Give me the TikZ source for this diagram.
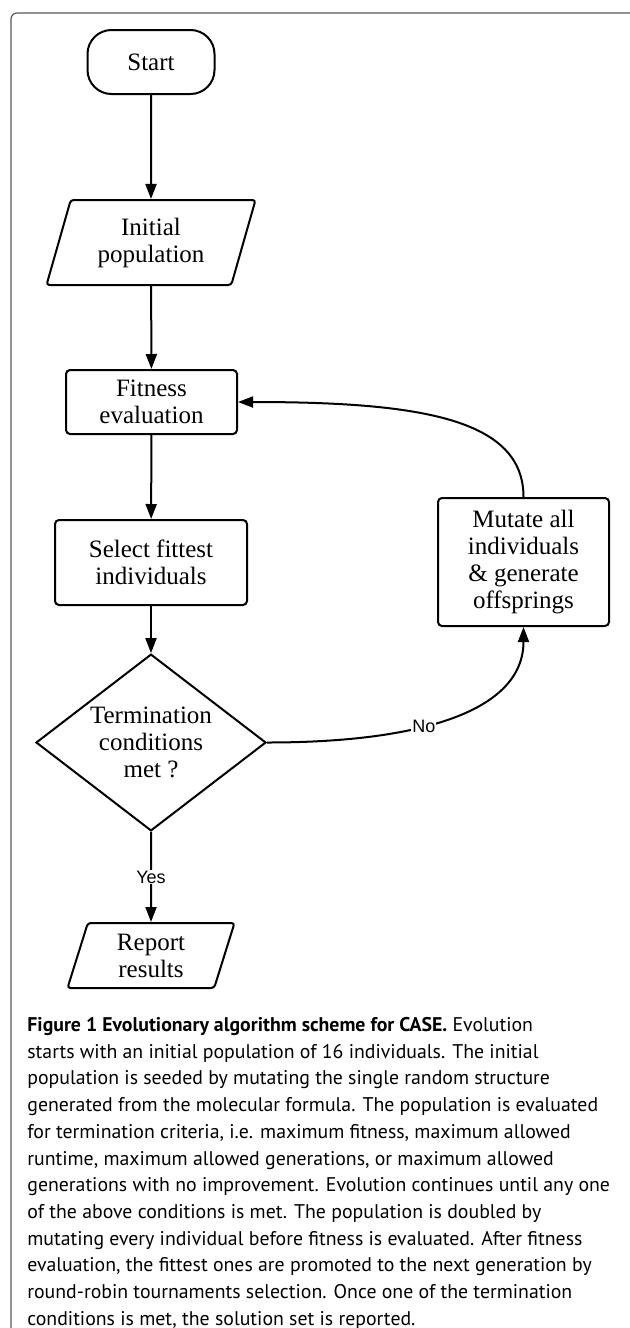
\documentclass[tikz,border=0pt]{standalone}
\usepackage{fontspec}
\setmainfont{Liberation Serif}
\newfontfamily\captionfont{PT Sans}
\newfontfamily\labelfont{Liberation Sans}
\usetikzlibrary{shapes.geometric,arrows.meta}

\begin{document}
\begin{tikzpicture}[x=0.5pt,y=-0.5pt]
		\tikzstyle{every node}=[font=\fontsize{12.5}{13.5}\selectfont]
		\tikzstyle{terminal} = [draw, rectangle, rounded corners=12pt, align=center, line width=1pt, minimum width=63.5pt, minimum height=32pt]
		\tikzstyle{proceso} = [draw, rectangle, rounded corners=2pt, align=center, line width=1pt, inner sep=0pt]
		\tikzstyle{datos} = [draw, trapezium, trapezium stretches body, rounded corners=1.5pt, align=center, line width=1pt, inner sep=0pt]
		\tikzstyle{decision} = [draw, diamond, align=center, line width=1pt, inner sep=-2pt, minimum width=115pt, minimum height=72.5pt]
		\tikzstyle{flecha} = [-{Triangle[length=7.5pt,width=5.5pt]}, line width=1pt]
		\tikzstyle{etiqueta} = [font=\labelfont\fontsize{9}{10}\selectfont, fill=white, inner sep=0.5pt]
		\tikzstyle{marco} = [draw=black!65, line width=0.6pt, rounded corners=3pt]

		\useasboundingbox (0,0) rectangle (629,1328);
		\draw[marco] (11,1345) -- (11,13) -- (645,13);

		\draw (151,62) node[terminal](start){Start};
		\draw (151,242.5) node[datos, trapezium left angle=64, trapezium right angle=116, minimum width=104.5pt, minimum height=42.5pt](init){Initial\\population};
		\draw (151.5,402) node[proceso, minimum width=85.5pt, minimum height=32pt](fit){Fitness\\evaluation};
		\draw (151,562.5) node[proceso, minimum width=96pt, minimum height=42.5pt](sel){Select fittest\\individuals};
		\draw (151,742.5) node[decision](term){Termination\\conditions\\met ?};
		\draw (151,955.5) node[datos, trapezium left angle=65, trapezium right angle=115, minimum width=83.5pt, minimum height=32.5pt](report){Report\\results};
		\draw (523.5,562) node[proceso, minimum width=85.5pt, minimum height=64pt](mut){Mutate all\\individuals\\\& generate\\offsprings};

		\draw [flecha] (start) -- (init);
		\draw [flecha] (init) -- (fit);
		\draw [flecha] (fit) -- (sel);
		\draw [flecha] (sel) -- (term);
		\draw [flecha] (term.south) -- (report.north) node[midway, etiqueta]{Yes};
		\draw [flecha] (term.east) .. controls +(154,0) and +(0,84) .. (mut.south) node[pos=0.4, etiqueta]{No};
		\draw [flecha] (mut.north) .. controls +(0,-78) and +(183,0) .. (fit.east);

		\draw (27,1017) node[anchor=north west, align=left, inner sep=0pt, font=\captionfont\fontsize{9.9}{13.35}\selectfont](caption){%
			\textbf{Figure 1 Evolutionary algorithm scheme for CASE.} Evolution\\
			starts with an initial population of 16 individuals. The initial\\
			population is seeded by mutating the single random structure\\
			generated from the molecular formula. The population is evaluated\\
			for termination criteria, i.e. maximum fitness, maximum allowed\\
			runtime, maximum allowed generations, or maximum allowed\\
			generations with no improvement. Evolution continues until any one\\
			of the above conditions is met. The population is doubled by\\
			mutating every individual before fitness is evaluated. After fitness\\
			evaluation, the fittest ones are promoted to the next generation by\\
			round-robin tournaments selection. Once one of the termination\\
			conditions is met, the solution set is reported.};
	\end{tikzpicture}
\end{document}
